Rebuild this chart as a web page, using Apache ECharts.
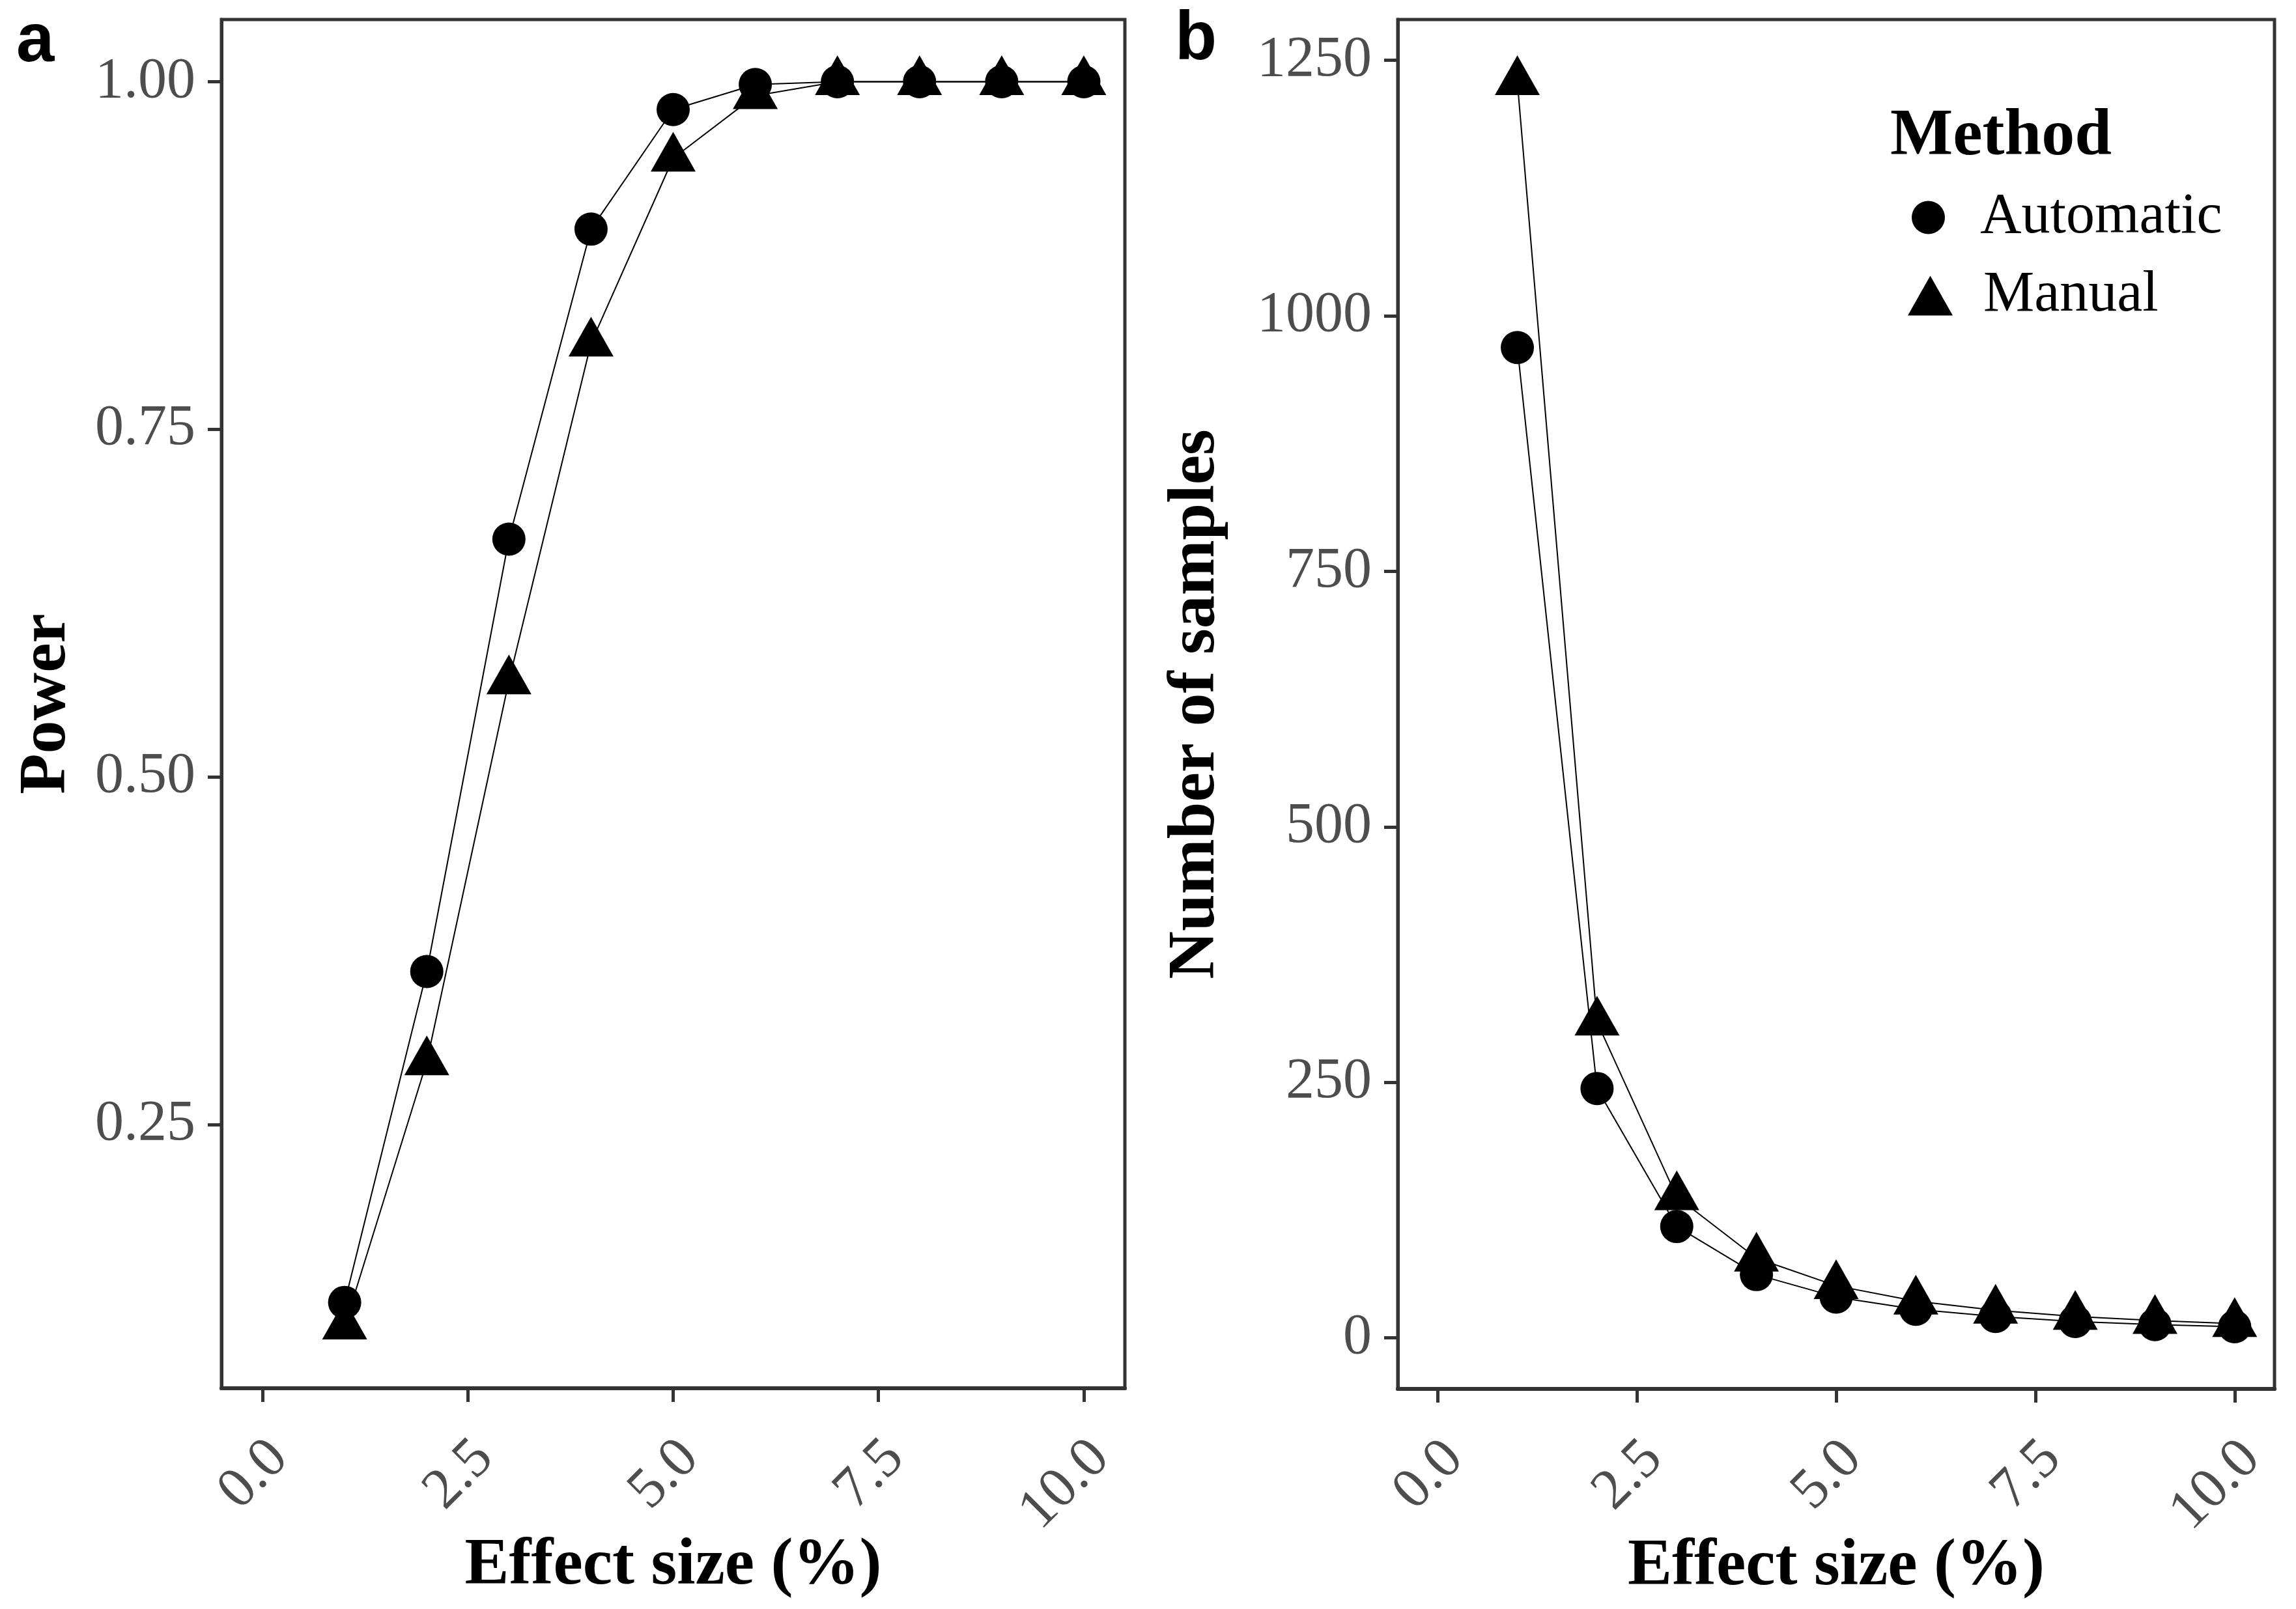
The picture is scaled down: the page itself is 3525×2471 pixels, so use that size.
<!DOCTYPE html>
<html>
<head>
<meta charset="utf-8">
<script src="https://cdn.jsdelivr.net/npm/echarts@6/dist/echarts.min.js"></script>
<style>
html,body{margin:0;padding:0;background:#ffffff;}
#chart{width:3525px;height:2471px;}
</style>
</head>
<body>
<div id="chart"></div>
<script>
// ---- data ----
const effectSize = [1, 2, 3, 4, 5, 6, 7, 8, 9, 10];
const powerAutomatic = [0.122, 0.360, 0.671, 0.894, 0.980, 0.998, 1.000, 1.000, 1.000, 1.000];
const powerManual = [0.105, 0.295, 0.569, 0.812, 0.945, 0.990, 1.000, 1.000, 1.000, 1.000];
const samplesAutomatic = [969, 244, 109, 62, 40, 28, 21, 16, 13, 11];
const samplesManual = [1229, 309, 138, 78, 51, 36, 27, 21, 17, 14];
const xTicks = [0, 2.5, 5, 7.5, 10];
const powerTicks = [0.25, 0.50, 0.75, 1.00];
const samplesTicks = [0, 250, 500, 750, 1000, 1250];
const methods = ['Automatic', 'Manual'];

// ggplot-like 5% expansion of an axis range
function expandRange(values) {
  const lo = Math.min.apply(null, values), hi = Math.max.apply(null, values);
  const d = (hi - lo) * 0.05;
  return [lo - d, hi + d];
}
const xRange = expandRange([0].concat(effectSize));
const powerRange = expandRange(powerAutomatic.concat(powerManual));
const samplesRange = expandRange(samplesAutomatic.concat(samplesManual));

const pairs = (xs, ys) => xs.map((x, i) => [x, ys[i]]);

const SERIF = "'Liberation Serif', 'Times New Roman', serif";
const SANS = "'Liberation Sans', Arial, sans-serif";
const DARK = '#333333';
const TICKCOL = '#4D4D4D';
const TICK_FS = 88;
const TITLE_FS = 102;

function xAxisCfg(gridIndex) {
  return {
    type: 'value', gridIndex: gridIndex,
    min: xRange[0], max: xRange[1],
    name: 'Effect size (%)', nameLocation: 'middle', nameGap: 223, nameMoveOverlap: false,
    nameTextStyle: {fontFamily: SERIF, fontWeight: 'bold', fontSize: TITLE_FS, color: '#000'},
    axisLine: {show: true, onZero: false, lineStyle: {color: DARK, width: 6}},
    axisTick: {show: true, length: 21, lineStyle: {color: DARK, width: 5}, customValues: xTicks},
    axisLabel: {
      show: true, rotate: 45, margin: 12, verticalAlign: 'top', lineHeight: 153,
      padding: [0, 40, 0, 0],
      customValues: xTicks,
      formatter: v => Number(v).toFixed(1),
      fontFamily: SERIF, fontSize: TICK_FS, color: TICKCOL
    },
    splitLine: {show: false}
  };
}
function yAxisCfg(gridIndex, range, ticks, name, gap, digits) {
  return {
    type: 'value', gridIndex: gridIndex,
    min: range[0], max: range[1],
    name: name, nameLocation: 'middle', nameGap: gap, nameRotate: 90, nameMoveOverlap: false,
    nameTextStyle: {fontFamily: SERIF, fontWeight: 'bold', fontSize: TITLE_FS, color: '#000'},
    axisLine: {show: true, onZero: false, lineStyle: {color: DARK, width: 5}},
    axisTick: {show: true, length: 21, lineStyle: {color: DARK, width: 5}, customValues: ticks},
    axisLabel: {
      show: true, margin: 40, customValues: ticks,
      formatter: v => Number(v).toFixed(digits),
      fontFamily: SERIF, fontSize: TICK_FS, color: TICKCOL
    },
    splitLine: {show: false}
  };
}
function lineSeries(name, gi, ys, isTri) {
  return {
    name: name, type: 'line', xAxisIndex: gi, yAxisIndex: gi,
    data: pairs(effectSize, ys),
    symbol: isTri ? 'triangle' : 'circle',
    symbolSize: isTri ? [69, 61] : 51,
    symbolOffset: isTri ? [0, -10] : [0, 0],
    showAllSymbol: true,
    lineStyle: {color: '#000', width: 2},
    itemStyle: {color: '#000'},
    emphasis: {disabled: true},
    animation: false,
    z: 3
  };
}

const chart = echarts.init(document.getElementById('chart'), null, {renderer: 'canvas'});
chart.setOption({
  backgroundColor: '#ffffff',
  animation: false,
  title: [
    {text: 'a', left: 25, top: 13, padding: 0,
     textStyle: {fontFamily: SANS, fontWeight: 'bold', fontSize: 105, color: '#000'}},
    {text: 'b', left: 1804, top: 10, padding: 0,
     textStyle: {fontFamily: SANS, fontWeight: 'bold', fontSize: 105, color: '#000'}},
    {text: 'Method', left: 2902, top: 160, padding: 0,
     textStyle: {fontFamily: SERIF, fontWeight: 'bold', fontSize: TITLE_FS, color: '#000'}}
  ],
  legend: [
    {data: [{name: methods[0], icon: 'circle'}], left: 2935, top: 290, padding: 0,
     itemWidth: 51, itemHeight: 51, selectedMode: false,
     textStyle: {fontFamily: SERIF, fontSize: TICK_FS, color: '#000', padding: [0, 0, 0, 49]}},
    {data: [{name: methods[1], icon: 'triangle'}], left: 2929, top: 410, padding: 0,
     itemWidth: 69, itemHeight: 61, selectedMode: false,
     textStyle: {fontFamily: SERIF, fontSize: TICK_FS, color: '#000', padding: [30, 0, 0, 42]}}
  ],
  grid: [
    {left: 340, top: 30, width: 1387, height: 2102, show: true, borderColor: DARK, borderWidth: 5,
     backgroundColor: 'transparent', containLabel: false, outerBoundsMode: 'none'},
    {left: 2146, top: 30, width: 1346, height: 2103, show: true, borderColor: DARK, borderWidth: 5,
     backgroundColor: 'transparent', containLabel: false, outerBoundsMode: 'none'}
  ],
  xAxis: [xAxisCfg(0), xAxisCfg(1)],
  yAxis: [
    yAxisCfg(0, powerRange, powerTicks, 'Power', 216, 2),
    yAxisCfg(1, samplesRange, samplesTicks, 'Number of samples', 258, 0)
  ],
  series: [
    lineSeries(methods[0], 0, powerAutomatic, false),
    lineSeries(methods[1], 0, powerManual, true),
    lineSeries(methods[0], 1, samplesAutomatic, false),
    lineSeries(methods[1], 1, samplesManual, true)
  ]
});
</script>
</body>
</html>
